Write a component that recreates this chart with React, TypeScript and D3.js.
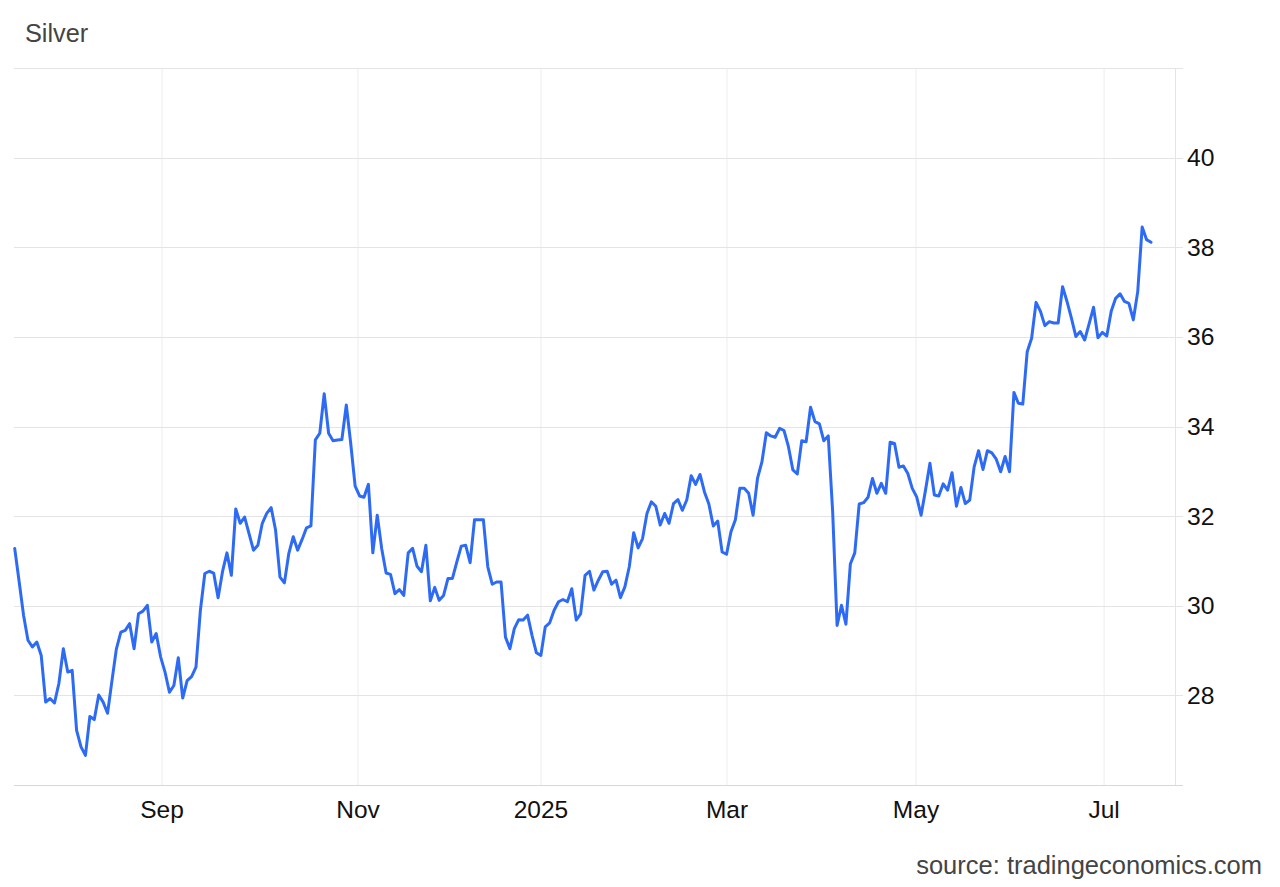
import React from "react";
import * as d3 from "d3";

const title = "Silver";
const sourceText = "source: tradingeconomics.com";

// Daily silver prices (USD/oz), mid-Jul 2024 .. mid-Jul 2025, evenly spaced (ordinal)
const silverPrices: number[] = [
  31.28, 30.54, 29.79, 29.23, 29.08, 29.19, 28.89, 27.85, 27.93, 27.83,
  28.27, 29.04, 28.52, 28.56, 27.22, 26.85, 26.66, 27.53, 27.46, 28.01,
  27.85, 27.6, 28.33, 29.04, 29.41, 29.45, 29.6, 29.04, 29.82, 29.88,
  30.01, 29.19, 29.38, 28.86, 28.52, 28.07, 28.22, 28.84, 27.94, 28.33,
  28.42, 28.63, 29.9, 30.72, 30.77, 30.73, 30.18, 30.76, 31.18, 30.68,
  32.16, 31.84, 31.98, 31.61, 31.24, 31.35, 31.84, 32.06, 32.19, 31.69,
  30.64, 30.51, 31.17, 31.54, 31.24, 31.48, 31.74, 31.78, 33.7, 33.85,
  34.73, 33.85, 33.68, 33.7, 33.71, 34.48, 33.62, 32.67, 32.45, 32.42,
  32.71, 31.18, 32.02, 31.28, 30.73, 30.7, 30.27, 30.36, 30.23, 31.18,
  31.28, 30.88, 30.76, 31.35, 30.11, 30.41, 30.12, 30.23, 30.61, 30.61,
  30.98, 31.33, 31.35, 30.96, 31.92, 31.92, 31.92, 30.87, 30.48, 30.53,
  30.53, 29.3, 29.04, 29.49, 29.69, 29.68, 29.79, 29.34, 28.95, 28.89,
  29.53, 29.62, 29.9, 30.09, 30.14, 30.09, 30.38, 29.68, 29.82, 30.68,
  30.77, 30.35, 30.57, 30.76, 30.77, 30.48, 30.57, 30.18, 30.42, 30.87,
  31.63, 31.29, 31.5, 32.06, 32.32, 32.22, 31.8, 32.06, 31.84, 32.28,
  32.37, 32.13, 32.36, 32.9, 32.71, 32.93, 32.54, 32.27, 31.78, 31.89,
  31.2, 31.15, 31.65, 31.92, 32.62, 32.62, 32.51, 32.02, 32.84, 33.21,
  33.86, 33.79, 33.76, 33.96, 33.91, 33.55, 33.03, 32.94, 33.68, 33.66,
  34.43, 34.11, 34.06, 33.68, 33.79, 32.1, 29.56, 30.01, 29.59, 30.93,
  31.18, 32.27, 32.3, 32.42, 32.84, 32.51, 32.73, 32.51, 33.65, 33.62,
  33.09, 33.12, 32.95, 32.62, 32.43, 32.02, 32.58, 33.18, 32.47, 32.45,
  32.72, 32.58, 32.97, 32.22, 32.64, 32.28, 32.36, 33.1, 33.46, 33.04,
  33.46, 33.41, 33.27, 32.99, 33.33, 32.99, 34.76, 34.52, 34.5, 35.67,
  35.97, 36.77, 36.57, 36.25, 36.34, 36.31, 36.31, 37.12, 36.79, 36.42,
  36.01, 36.12, 35.93, 36.29, 36.66, 35.98, 36.1, 36.02, 36.57, 36.86,
  36.96, 36.79, 36.75, 36.38, 37.01, 38.45, 38.17, 38.11,
];

// X-axis month ticks (position in the ordinal point index) and labels
const xTickLabels: string[] = ["Sep", "Nov", "2025", "Mar", "May", "Jul"];
const xTickPositions: number[] = [33.32, 77.65, 119.03, 161.1, 203.85, 246.4];

// Y-axis
const yGridValues: number[] = [26, 28, 30, 32, 34, 36, 38, 40, 42];
const yTickLabels: number[] = [28, 30, 32, 34, 36, 38, 40];

const W = 1280;
const H = 887;
const plotLeft = 14;
const plotRight = 1175;
const plotTop = 68;
const plotBottom = 785;
const lineStart = 14.7;
const lineEnd = 1151;
const FONT = "'Liberation Sans', Arial, Helvetica, sans-serif";

export default function App() {
  const x = d3
    .scaleLinear()
    .domain([0, silverPrices.length - 1])
    .range([lineStart, lineEnd]);
  const y = d3.scaleLinear().domain([26, 42]).range([plotBottom, plotTop]);

  const line = d3
    .line<number>()
    .x((_, i) => x(i))
    .y((d) => y(d))
    .curve(d3.curveLinear);

  return (
    <div style={{ position: "absolute", left: 0, top: 0 }}>
      <svg width={W} height={H} style={{ display: "block", background: "#fff" }}>
        <text x={25} y={42} fontFamily={FONT} fontSize={25.3} fill="#444">
          {title}
        </text>

        {/* vertical month gridlines */}
        {xTickPositions.map((p, i) => (
          <line
            key={"vx" + i}
            x1={x(p)}
            x2={x(p)}
            y1={plotTop}
            y2={plotBottom}
            stroke="#ededed"
            strokeWidth={1}
          />
        ))}

        {/* horizontal gridlines */}
        {yGridValues.map((v) => (
          <line
            key={"hy" + v}
            x1={plotLeft}
            x2={plotRight + 8}
            y1={Math.round(y(v)) + 0.5}
            y2={Math.round(y(v)) + 0.5}
            stroke={v === 26 ? "#d8d8d8" : "#e4e4e4"}
            strokeWidth={1}
          />
        ))}

        {/* right axis line */}
        <line
          x1={plotRight + 0.5}
          x2={plotRight + 0.5}
          y1={plotTop}
          y2={plotBottom}
          stroke="#e4e4e4"
          strokeWidth={1}
        />

        {/* y labels */}
        {yTickLabels.map((v) => (
          <text
            key={"yl" + v}
            x={1187}
            y={y(v)}
            dy="0.34em"
            fontFamily={FONT}
            fontSize={24.7}
            fill="#111"
          >
            {v}
          </text>
        ))}

        {/* x labels */}
        {xTickLabels.map((lab, i) => (
          <text
            key={"xl" + i}
            x={x(xTickPositions[i])}
            y={818}
            textAnchor="middle"
            fontFamily={FONT}
            fontSize={24.5}
            fill="#111"
          >
            {lab}
          </text>
        ))}

        <path
          d={line(silverPrices) || ""}
          fill="none"
          stroke="#2e6bf5"
          strokeWidth={3}
          strokeLinejoin="round"
          strokeLinecap="round"
        />

        <text
          x={1262}
          y={874}
          textAnchor="end"
          fontFamily={FONT}
          fontSize={25.5}
          fill="#444"
        >
          {sourceText}
        </text>
      </svg>
    </div>
  );
}
